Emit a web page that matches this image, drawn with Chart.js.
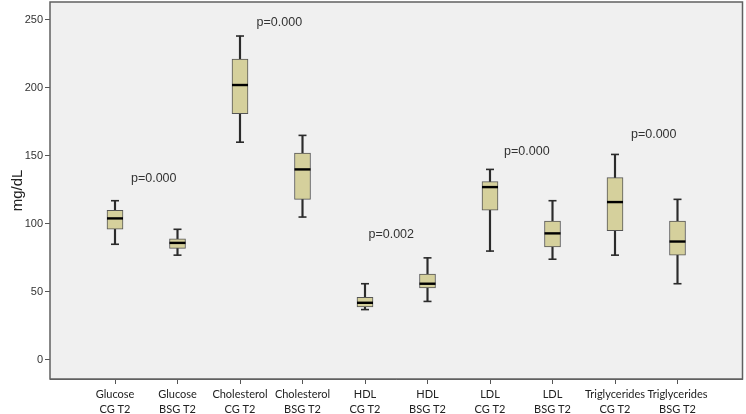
<!DOCTYPE html>
<html>
<head>
<meta charset="utf-8">
<script src="https://cdn.jsdelivr.net/npm/chart.js@4.4.1/dist/chart.umd.min.js"></script>
<style>
  html, body { margin: 0; padding: 0; background: #ffffff; }
  #c { display: block; }
</style>
</head>
<body>
<canvas id="c" width="746" height="414"></canvas>
<script>
// ---- data ----
const categories = [
  ['Glucose', 'CG T2'], ['Glucose', 'BSG T2'],
  ['Cholesterol', 'CG T2'], ['Cholesterol', 'BSG T2'],
  ['HDL', 'CG T2'], ['HDL', 'BSG T2'],
  ['LDL', 'CG T2'], ['LDL', 'BSG T2'],
  ['Triglycerides', 'CG T2'], ['Triglycerides', 'BSG T2']
];
const whiskerHigh = [117, 96, 238, 165, 56, 75, 140, 117, 151, 118];
const q3          = [110, 89, 221, 152, 46, 63, 131, 102, 134, 102];
const median      = [104, 86, 202, 140, 42, 56, 127, 93, 116, 87];
const q1          = [96, 82, 181, 118, 39, 53, 110, 83, 95, 77];
const whiskerLow  = [85, 77, 160, 105, 37, 43, 80, 74, 77, 56];
const yTicks = [0, 50, 100, 150, 200, 250];
const pTexts = ['p=0.000', 'p=0.000', 'p=0.002', 'p=0.000', 'p=0.000'];
const pAtCategory = [0.62, 2.63, 4.42, 6.59, 8.62];
const pAtValue = [133, 248, 92.5, 153, 165.5];

// ---- build library structures ----
const idx = categories.map((_, i) => i);
const whiskerData = idx.map(i => ({ x: i, y: [whiskerLow[i], whiskerHigh[i]] }));
const boxData = idx.map(i => ({ x: i, y: [q1[i], q3[i]] }));
const capData = idx.flatMap(i => [{ x: i, y: whiskerLow[i] }, { x: i, y: whiskerHigh[i] }]);
const medianData = idx.map(i => ({ x: i, y: median[i] }));

const zeroPad = s => { s.paddingLeft = 0; s.paddingRight = 0; s.paddingTop = 0; s.paddingBottom = 0; };

const frameAndLabels = {
  id: 'frameAndLabels',
  beforeDatasetsDraw(chart) {
    const { ctx, chartArea: a } = chart;
    ctx.save();
    ctx.fillStyle = '#f0f0f0';
    ctx.fillRect(a.left, a.top, a.right - a.left, a.bottom - a.top);
    ctx.restore();
  },
  afterDatasetsDraw(chart) {
    const { ctx, chartArea: a, scales } = chart;
    ctx.save();
    ctx.strokeStyle = '#606060';
    ctx.lineWidth = 1.5;
    ctx.strokeRect(a.left, a.top, a.right - a.left, a.bottom - a.top);
    ctx.fillStyle = '#333333';
    ctx.font = '12.5px "Liberation Sans", Arial, sans-serif';
    ctx.textAlign = 'center';
    ctx.textBaseline = 'middle';
    pTexts.forEach((t, i) => {
      ctx.fillText(t, scales.x.getPixelForValue(pAtCategory[i]), scales.y.getPixelForValue(pAtValue[i]));
    });
    ctx.restore();
  }
};

new Chart(document.getElementById('c'), {
  type: 'bar',
  data: {
    datasets: [
      {
        type: 'bar', data: whiskerData, grouped: false, order: 4,
        barThickness: 1.5, backgroundColor: '#2b2b2b', borderWidth: 0
      },
      {
        type: 'line', data: capData, order: 3, showLine: false, clip: false,
        pointStyle: 'line', pointRadius: 4, pointBorderWidth: 1.6,
        pointBorderColor: '#2b2b2b', pointBackgroundColor: '#2b2b2b'
      },
      {
        type: 'bar', data: boxData, grouped: false, order: 2,
        barThickness: 16, backgroundColor: '#d5d09c',
        borderColor: '#555555', borderWidth: 1, borderSkipped: false
      },
      {
        type: 'line', data: medianData, order: 1, showLine: false, clip: false,
        pointStyle: 'line', pointRadius: 8, pointBorderWidth: 2.4,
        pointBorderColor: '#000000', pointBackgroundColor: '#000000'
      }
    ]
  },
  options: {
    responsive: false,
    animation: false,
    events: [],
    layout: { autoPadding: false, padding: { top: 2, right: 3.5, left: 0, bottom: 0 } },
    plugins: { legend: { display: false }, tooltip: { enabled: false } },
    scales: {
      x: {
        type: 'linear', min: -1.04, max: 10.04, offset: false,
        afterBuildTicks: s => { s.ticks = idx.map(i => ({ value: i })); },
        afterFit: s => { s.height = 35; zeroPad(s); },
        grid: { drawOnChartArea: false, drawTicks: true, tickLength: 5, color: '#555555', offset: false },
        border: { display: true, color: '#606060' },
        ticks: {
          autoSkip: false, maxRotation: 0, padding: 3,
          color: '#222222', font: { family: 'Lato, "Open Sans", sans-serif', size: 11, lineHeight: 1.35 },
          callback: (v, i) => categories[i]
        }
      },
      y: {
        type: 'linear', min: -14, max: 263,
        afterBuildTicks: s => { s.ticks = yTicks.map(v => ({ value: v })); },
        afterFit: s => { s.width = 50; zeroPad(s); },
        grid: { drawOnChartArea: false, drawTicks: true, tickLength: 5, color: '#555555' },
        border: { display: true, color: '#606060' },
        ticks: {
          padding: 2, color: '#333333',
          font: { family: '"Liberation Sans", Arial, sans-serif', size: 11 }
        },
        title: {
          display: true, text: 'mg/dL', color: '#222222',
          font: { family: '"Liberation Sans", Arial, sans-serif', size: 15 },
          padding: { top: 9, bottom: 0 }
        }
      }
    }
  },
  plugins: [frameAndLabels]
});
</script>
</body>
</html>
